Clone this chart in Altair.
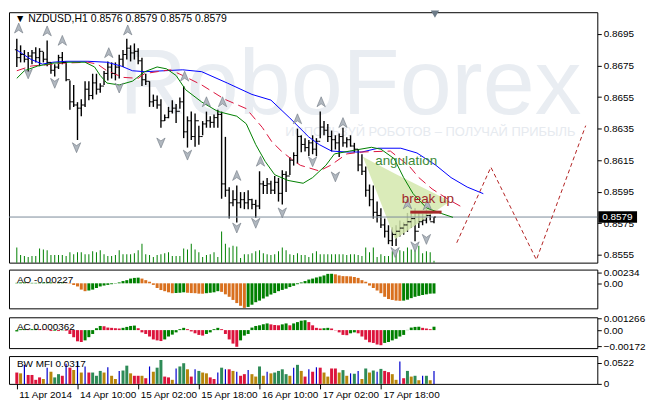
import altair as alt
import pandas as pd

# ---------------- data ----------------
highs = [
    .86920, .86878, .86848, .86836, .86848, .86866, .86860, .86836, .86908, .86770,
    .86758, .86818, .86836, .86776, .86656, .86626, .86518, .86536, .86650, .86650,
    .86698, .86698, .86638, .86716, .86776, .86770, .86770, .86818, .86848, .86920,
    .86878, .86890, .86860, .86800, .86698, .86650, .86566, .86560, .86536, .86440,
    .86488, .86530, .86506, .86548, .86620, .86428, .86458, .86446, .86368, .86398,
    .86458, .86428, .86440, .86470, .86458, .86298, .85978, .85960, .85990, .85948,
    .85948, .85960, .85906, .85900, .86080, .86020, .86038, .86020, .86050, .86038,
    .86086, .86080, .86170, .86200, .86350, .86308, .86290, .86278, .86308, .86290,
    .86458, .86398, .86380, .86338, .86308, .86320, .86356, .86296, .86308, .86260,
    .86218, .86188, .86110, .85996, .85990, .85888, .85846, .85780, .85738, .85726,
    .85738, .85768, .85756, .85816, .85810, .85846, .85816, .85810, .85840, .85816,
    .85790]
lows = [
    .86740, .86770, .86770, .86698, .86758, .86770, .86746, .86770, .86746, .86698,
    .86680, .86728, .86758, .86650, .86470, .86488, .86278, .86428, .86488, .86530,
    .86536, .86566, .86578, .86626, .86656, .86668, .86656, .86668, .86740, .86788,
    .86776, .86788, .86758, .86620, .86626, .86488, .86488, .86476, .86356, .86398,
    .86416, .86446, .86386, .86476, .86290, .86230, .86278, .86236, .86248, .86308,
    .86356, .86356, .86356, .86356, .85906, .85918, .85780, .85858, .85756, .85846,
    .85840, .85840, .85840, .85786, .85840, .85936, .85936, .85936, .85936, .85888,
    .85870, .85948, .86056, .86116, .86128, .86200, .86206, .86176, .86188, .86176,
    .86290, .86308, .86266, .86206, .86218, .86170, .86236, .86230, .86236, .86200,
    .86080, .86056, .85918, .85858, .85780, .85756, .85720, .85660, .85618, .85606,
    .85606, .85666, .85678, .85696, .85720, .85636, .85720, .85738, .85750, .85768,
    .85750]
closes = [
    .86800, .86820, .86790, .86810, .86830, .86800, .86840, .86790, .86770, .86720,
    .86740, .86800, .86770, .86660, .86520, .86500, .86480, .86500, .86600, .86560,
    .86640, .86600, .86620, .86700, .86740, .86700, .86740, .86790, .86820, .86860,
    .86830, .86840, .86780, .86660, .86650, .86520, .86530, .86500, .86400, .86420,
    .86460, .86480, .86460, .86520, .86330, .86400, .86300, .86400, .86300, .86380,
    .86400, .86390, .86420, .86440, .86000, .85960, .85880, .85900, .85880, .85900,
    .85880, .85900, .85870, .85860, .86000, .85990, .86000, .85960, .86010, .85940,
    .86060, .86050, .86150, .86180, .86300, .86250, .86230, .86260, .86220, .86270,
    .86360, .86340, .86300, .86280, .86260, .86300, .86260, .86280, .86240, .86220,
    .86120, .86080, .85960, .85900, .85820, .85800, .85740, .85700, .85640, .85680,
    .85700, .85720, .85740, .85760, .85780, .85700, .85760, .85770, .85800, .85760,
    .85790]
first_open = 0.86850
volumes = [
    16, 8, 7, 6, 7, 7, 15, 14, 13, 8, 8, 8, 8, 7, 11, 9, 11, 11, 9, 9,
    12, 11, 13, 9, 7, 7, 8, 13, 9, 9, 9, 10, 13, 20, 9, 8, 6, 8, 9, 10,
    11, 7, 7, 7, 15, 14, 20, 14, 11, 6, 8, 9, 11, 6, 33, 20, 16, 18, 17, 5,
    9, 9, 10, 12, 13, 10, 9, 8, 9, 12, 16, 13, 9, 8, 10, 8, 8, 6, 10, 12,
    9, 9, 9, 9, 9, 9, 9, 8, 9, 9, 8, 7, 16, 11, 16, 6, 9, 7, 7, 12,
    13, 13, 12, 16, 14, 16, 18, 10, 12, 11, 2]

jaw_x = [0, 3.75, 6.75, 9.5, 13, 18.75, 23.75, 27.5, 30.5, 33.75, 38.75, 43.75, 48.75, 55.5, 62,
         67, 72, 77, 79.75, 83, 87, 91, 95.25, 101.25, 105.5, 110.5, 114.5, 118.75, 123]
jaw_p = [.86848, .86789, .86759, .86771, .86777, .86777, .86771, .86747, .86717, .86711, .86717,
         .86723, .86711, .86639, .86567, .86531, .86417, .86297, .86249, .86208, .86202, .86202,
         .86226, .86226, .86196, .86118, .86040, .85980, .85938]
teeth_x = [0, 3.75, 7, 12, 18.75, 21.25, 23.75, 28, 32, 33.75, 37, 40.5, 43.75, 48.75, 54.75, 60.5,
           64.75, 67.25, 69.75, 72.25, 74.75, 79.75, 82.75, 87, 91, 98.5, 101, 103.5, 106, 109.5,
           113.75, 117.75]
teeth_p = [.86717, .86747, .86753, .86765, .86771, .86759, .86717, .86675, .86669, .86699, .86711,
           .86723, .86687, .86627, .86537, .86477, .86357, .86267, .86208, .86160, .86118, .86082,
           .86118, .86190, .86202, .86208, .86160, .86112, .86040, .85968, .85902, .85848]
lips_x = [0, 2, 5.5, 9.5, 13.75, 18, 20.5, 22, 23.75, 27, 30.5, 33.75, 37, 39.5, 42, 44.5, 48.75,
          53, 58, 60.5, 63, 65.5, 68, 71.5, 75.5, 78, 81.5, 83.75, 87.75, 93.5, 96, 99.5, 102,
          104.5, 108, 112, 115]
lips_p = [.86669, .86717, .86747, .86765, .86771, .86771, .86741, .86687, .86639, .86627, .86651,
          .86711, .86741, .86729, .86687, .86597, .86519, .86459, .86429, .86381, .86249, .86142,
          .86058, .86022, .86004, .86040, .86118, .86190, .86208, .86232, .86220, .86160, .86040,
          .85938, .85848, .85812, .85788]

fr_up_x = [0.5, 8, 12, 24.25, 29.25, 44.25, 50, 54.25, 58, 64.25, 74, 80.25, 86, 103, 108.25]
fr_up_p = [.86986, .86968, .86908, .86830, .86974, .86681, .86519, .86519, .86052, .86142, .86411,
           .86519, .86387, .85872, .85866]
fr_dn_x = [3, 10, 15.75, 27, 38, 45, 58, 63, 70, 78, 84, 99.75, 105, 108]
fr_dn_p = [.86699, .86639, .86231, .86609, .86261, .86184, .85722, .85752, .85818, .86142, .86046,
           .85567, .85603, .85650]

proj_x = [116, 125, 137, 150]
proj_p = [.85627, .86106, .85519, .86369]

ang_x = [91.25, 99.75, 114.25]
ang_top = [.86172, .86065, .85890]
ang_bot = [.86172, .85650, .85890]

brk_x = [103.75, 112]
brk_p = .85821
last_price = 0.8579

ao = [
    0.0001, 0.0002, 0.0002, 0.0001, 0.0001, 0.0001, 0.0001, 0.0002, 0.0002, 0.0002,
    0.0001, 0.0001, 0.0002, 0.0001, -0.0001, -0.00035, -0.0007, -0.0014, -0.00175, -0.0016,
    -0.0014, -0.00105, -0.0007, -0.0005, -0.00035, -0.0002, -0.00007, 0.0002, 0.0005, 0.0007,
    0.00105, 0.0012, 0.00126, 0.00105, 0.0007, 0.00035, -0.00035, -0.00105, -0.0015, -0.00175,
    -0.002, -0.0022, -0.00215, -0.0021, -0.002, -0.0021, -0.00217, -0.0022, -0.0023, -0.00231,
    -0.0022, -0.0021, -0.002, -0.00175, -0.0019, -0.00245, -0.003, -0.0037, -0.0044, -0.005,
    -0.00546, -0.00525, -0.00476, -0.0042, -0.00385, -0.00336, -0.00294, -0.0025, -0.00217, -0.00175,
    -0.00147, -0.0012, -0.00084, -0.00056, -0.0002, 0.0002, 0.0005, 0.00084, 0.00105, 0.0013,
    0.0015, 0.00175, 0.0021, 0.00212, 0.002, 0.00175, 0.0016, 0.00158, 0.00154, 0.0014,
    0.0012, 0.0007, 0.00035, -0.0005, -0.00105, -0.0016, -0.0022, -0.003, -0.0035, -0.0037,
    -0.00385, -0.0039, -0.00385, -0.00364, -0.0033, -0.003, -0.0028, -0.0026, -0.00245, -0.0023,
    -0.00227]
ac = [
    -0.00014, 0.00010, 0.00010, 0.00007, 0.00010, 0.00014, 0.00010, 0.00007, 0.00003, -0.00010,
    -0.00007, -0.00010, -0.00003, -0.00007, -0.00041, -0.00075, -0.00119, -0.00126, -0.00109, -0.00075,
    -0.00041, 0.00020, 0.00044, 0.00041, 0.00027, 0.00024, 0.00020, 0.00017, 0.00024, 0.00034,
    0.00044, 0.00048, 0.00020, -0.00024, -0.00041, -0.00068, -0.00099, -0.00109, -0.00116, -0.00099,
    -0.00068, -0.00048, -0.00024, 0.00010, 0.00024, 0.00010, -0.00014, -0.00034, -0.00051, -0.00058,
    -0.00041, -0.00024, 0.00010, 0.00024, 0.00010, -0.00041, -0.00099, -0.00143, -0.00177, -0.00109,
    -0.00058, -0.00041, 0.00027, 0.00044, 0.00051, 0.00061, 0.00071, 0.00061, 0.00054, 0.00051,
    0.00061, 0.00071, 0.00051, 0.00071, 0.00085, 0.00100, 0.00105, 0.00085, 0.00051, 0.00024,
    0.00017, 0.00020, 0.00024, 0.00017, -0.00003, -0.00024, -0.00051, -0.00054, -0.00034, -0.00024,
    -0.00034, -0.00068, -0.00102, -0.00129, -0.00136, -0.00153, -0.00160, -0.00136, -0.00126, -0.00109,
    -0.00092, -0.00068, -0.00051, 0.00002, 0.00027, 0.00034, 0.00036, 0.00024, 0.00017, 0.00010,
    0.000362]
mfi = [
    .028, .026, .047, .022, .022, .010, .016, .012, .040, .030,
    .016, .024, .020, .050, .040, .034, .055, .028, .043, .028,
    .028, .020, .032, .028, .041, .020, .012, .032, .033, .045,
    .026, .020, .020, .020, .014, .043, .030, .040, .059, .018,
    .016, .010, .038, .043, .051, .036, .018, .036, .032, .028,
    .026, .016, .012, .028, .040, .036, .036, .032, .030, .020,
    .024, .034, .024, .018, .043, .020, .030, .026, .028, .032,
    .036, .024, .020, .040, .047, .032, .018, .036, .030, .041,
    .040, .028, .018, .038, .038, .028, .034, .020, .026, .025,
    .032, .012, .038, .028, .033, .030, .037, .032, .029, .024,
    .010, .055, .014, .032, .018, .020, .009, .020, .020, .009,
    .0317]
mfi_kind = [
    'R', 'Y', 'B', 'R', 'R', 'R', 'R', 'Y', 'B', 'Y',
    'G', 'G', 'R', 'B', 'R', 'Y', 'B', 'Y', 'B', 'R',
    'G', 'G', 'G', 'Y', 'B', 'Y', 'Y', 'B', 'G', 'G',
    'Y', 'R', 'R', 'Y', 'R', 'B', 'Y', 'G', 'G', 'R',
    'R', 'Y', 'B', 'G', 'G', 'Y', 'R', 'B', 'G', 'Y',
    'Y', 'R', 'R', 'B', 'G', 'B', 'R', 'Y', 'B', 'R',
    'R', 'B', 'Y', 'Y', 'G', 'Y', 'B', 'Y', 'G', 'G',
    'G', 'G', 'Y', 'B', 'G', 'Y', 'R', 'B', 'R', 'B',
    'R', 'Y', 'Y', 'R', 'R', 'Y', 'G', 'Y', 'B', 'G',
    'B', 'Y', 'G', 'Y', 'G', 'B', 'G', 'R', 'R', 'Y',
    'Y', 'B', 'R', 'G', 'Y', 'G', 'Y', 'B', 'G', 'Y',
    'B']

tick_pos = [0, 16, 32, 48, 64, 80, 96]
tick_labels = ['11 Apr 2014', '14 Apr 10:00', '15 Apr 02:00', '15 Apr 18:00',
               '16 Apr 10:00', '17 Apr 02:00', '17 Apr 18:00']
price_ticks = [0.8695, 0.8675, 0.8655, 0.8635, 0.8615, 0.8595, 0.8575, 0.8555]

# ---------------- layout / styles ----------------
W = 592
H_MAIN, H_AO, H_AC, H_MFI = 252, 39, 31, 28
XDOM = [-0.75, 151.75]
PDOM = [0.85501, 0.87088]
AODOM = [-0.00557, 0.00305]
ACDOM = [-0.00191, 0.00136]
MFIDOM = [0, 0.0687]
FONT = 'Liberation Sans'

xs = alt.Scale(domain=XDOM, nice=False, zero=False)
ps = alt.Scale(domain=PDOM, nice=False, zero=False)


def raxis(values, expr=None, fmt=None):
    kw = dict(orient='right', values=values, tickSize=4, tickColor='black', domain=False,
              grid=False, labelFont=FONT, labelFontSize=10, labelColor='black',
              labelPadding=2, title=None, labelOverlap=False, labelFlush=False)
    if expr:
        kw['labelExpr'] = expr
    if fmt:
        kw['format'] = fmt
    return alt.Axis(**kw)


PRICE_AXIS = raxis(price_ticks, fmt='.4f')


def X(f, axis=None):
    return alt.X(f, type='quantitative', scale=xs, axis=axis)


def PY(f):
    # identical axis on every price layer so the merged axis survives
    return alt.Y(f, type='quantitative', scale=ps, axis=PRICE_AXIS)


n = len(highs)
idx = list(range(n))
opens = [first_open] + closes[:-1]
bars = pd.DataFrame({'i': idx, 'open': opens, 'high': highs, 'low': lows,
                     'close': closes, 'vol': volumes})
bars['xl'] = bars['i'] - 0.5
bars['xr'] = bars['i'] + 0.5

# ---------------- main panel ----------------
wm1 = alt.Chart(pd.DataFrame({'t': ['RoboForex']})).mark_text(
    align='left', baseline='alphabetic', fontSize=94, font=FONT, color='#e9edf2'
).encode(x=alt.value(111), y=alt.value(102), text='t:N')
wm2 = alt.Chart(pd.DataFrame({'t': ['ИСПОЛЬЗУЙ РОБОТОВ – ПОЛУЧАЙ ПРИБЫЛЬ']})).mark_text(
    align='right', baseline='middle', fontSize=13, font=FONT, color='#e6eaef'
).encode(x=alt.value(570), y=alt.value(121), text='t:N')

vol = alt.Chart(bars).mark_bar(size=1, color='#008000').encode(
    x=X('i'), y=alt.Y('vol:Q', scale=alt.Scale(domain=[0, 265], nice=False), axis=None))

ang = alt.Chart(pd.DataFrame({'x': ang_x, 'top': ang_top, 'bot': ang_bot})).mark_area(
    color='#d3e7ad', opacity=0.85).encode(x=X('x'), y=PY('top'), y2='bot:Q')

pline = alt.Chart(pd.DataFrame({'p': [last_price]})).mark_rule(
    color='#7b8a99', strokeWidth=1).encode(y=PY('p'))

jaw = alt.Chart(pd.DataFrame({'x': jaw_x, 'p': jaw_p})).mark_line(
    color='#0000ff', strokeWidth=1).encode(x=X('x'), y=PY('p'))
teeth = alt.Chart(pd.DataFrame({'x': teeth_x, 'p': teeth_p})).mark_line(
    color='#dc143c', strokeWidth=1, strokeDash=[9, 5]).encode(x=X('x'), y=PY('p'))
lips = alt.Chart(pd.DataFrame({'x': lips_x, 'p': lips_p})).mark_line(
    color='#008000', strokeWidth=1).encode(x=X('x'), y=PY('p'))

hl = alt.Chart(bars).mark_rule(color='black', strokeWidth=1.4).encode(
    x=X('i'), y=PY('low'), y2='high:Q')
op = alt.Chart(bars).mark_rule(color='black', strokeWidth=1).encode(
    x=X('xl'), x2='i:Q', y=PY('open'))
cl = alt.Chart(bars).mark_rule(color='black', strokeWidth=1).encode(
    x=X('i'), x2='xr:Q', y=PY('close'))

UP = 'M0,-1L0.8,0.9L0,0.35L-0.8,0.9Z'
DN = 'M0,1L0.8,-0.9L0,-0.35L-0.8,-0.9Z'
fup = alt.Chart(pd.DataFrame({'x': fr_up_x, 'p': fr_up_p})).mark_point(
    shape=UP, filled=True, size=110, fill='#b0b7bf', stroke='#6f7882', strokeWidth=0.6,
    opacity=1).encode(x=X('x'), y=PY('p'))
fdn = alt.Chart(pd.DataFrame({'x': fr_dn_x, 'p': fr_dn_p})).mark_point(
    shape=DN, filled=True, size=110, fill='#b0b7bf', stroke='#6f7882', strokeWidth=0.6,
    opacity=1).encode(x=X('x'), y=PY('p'))

proj = alt.Chart(pd.DataFrame({'x': proj_x, 'p': proj_p})).mark_line(
    color='#b22222', strokeWidth=1, strokeDash=[4, 3]).encode(x=X('x'), y=PY('p'))

brk = alt.Chart(pd.DataFrame({'x1': [brk_x[0]], 'x2': [brk_x[1]], 'p': [brk_p]})).mark_rule(
    color='#a52a2a', strokeWidth=3).encode(x=X('x1'), x2='x2:Q', y=PY('p'))

notes = pd.DataFrame({'x': [94.5, 101.5], 'p': [.86142, .85902],
                      't': ['angulation', 'break up'], 'c': ['#3d8b37', '#a0282a']})
note_txt = alt.Chart(notes).mark_text(align='left', baseline='middle', fontSize=13.5,
                                      font=FONT).encode(
    x=X('x'), y=PY('p'), text='t:N', color=alt.Color('c:N', scale=None))

title = alt.Chart(pd.DataFrame({'t': ['▼ NZDUSD,H1  0.8576 0.8579 0.8575 0.8579']})).mark_text(
    align='left', baseline='middle', fontSize=10.5, font=FONT, color='black'
).encode(x=alt.value(6), y=alt.value(7), text='t:N')

box = alt.Chart(pd.DataFrame({'p1': [last_price + 0.00036], 'p2': [last_price - 0.00036]})).mark_rect(
    color='black').encode(x=alt.value(W + 1), x2=alt.value(W + 40), y=PY('p1'), y2='p2:Q')
box_txt = alt.Chart(pd.DataFrame({'p': [last_price], 't': ['0.8579']})).mark_text(
    align='left', baseline='middle', fontSize=10, font=FONT, color='white'
).encode(x=alt.value(W + 5), y=PY('p'), text='t:N')

marker = alt.Chart(pd.DataFrame({'x': [110.25], 'p': [PDOM[1] - 0.00012]})).mark_point(
    shape='triangle-down', filled=True, size=70, color='#6d7b88', opacity=1
).encode(x=X('x'), y=PY('p'))

price_layer = alt.layer(hl, ang, pline, jaw, teeth, lips, op, cl, fup, fdn, proj, brk,
                        note_txt, title, box, box_txt, marker)
main = alt.layer(wm1, wm2, vol, price_layer).resolve_scale(y='independent').properties(
    width=W, height=H_MAIN)


def colors_from(vals, up, down):
    out = []
    for k, v in enumerate(vals):
        prev = vals[k - 1] if k > 0 else v
        out.append(up if v >= prev else down)
    return out


def lbl(text, y):
    return alt.Chart(pd.DataFrame({'t': [text]})).mark_text(
        align='left', baseline='middle', fontSize=10, font=FONT, color='black'
    ).encode(x=alt.value(8), y=alt.value(y), text='t:N')


# ---------------- AO ----------------
ao_df = pd.DataFrame({'i': idx, 'v': ao, 'c': colors_from(ao, '#008000', '#d9701e')})
ao_bars = alt.Chart(ao_df).mark_bar(size=3).encode(
    x=X('i'),
    y=alt.Y('v:Q', scale=alt.Scale(domain=AODOM, nice=False, zero=False),
            axis=raxis([0.00234, 0, -0.00564],
                       expr="datum.value == 0 ? '0.00' : format(datum.value, '.5f')")),
    color=alt.Color('c:N', scale=None))
ao_panel = alt.layer(ao_bars, lbl('AO -0.00227', 10.5)).properties(width=W, height=H_AO)

# ---------------- AC ----------------
ac_df = pd.DataFrame({'i': idx, 'v': ac, 'c': colors_from(ac, '#008000', '#dc143c')})
ac_bars = alt.Chart(ac_df).mark_bar(size=3).encode(
    x=X('i'),
    y=alt.Y('v:Q', scale=alt.Scale(domain=ACDOM, nice=False, zero=False),
            axis=raxis([0.001266, 0, -0.00172],
                       expr="datum.value > 0 ? format(datum.value, '.6f') : (datum.value < 0 ? format(datum.value, '.5f') : '0.00')")),
    color=alt.Color('c:N', scale=None))
ac_panel = alt.layer(ac_bars, lbl('AC 0.000362', 10)).properties(width=W, height=H_AC)

# ---------------- BW MFI ----------------
cmap = {'R': '#dc143c', 'Y': '#b8860b', 'G': '#2e8b57', 'B': '#0000cd'}
mfi_df = pd.DataFrame({'i': idx, 'v': mfi, 'k': mfi_kind})
mfi_df['c'] = mfi_df['k'].map(cmap)
X_AXIS = alt.Axis(values=tick_pos,
                  labelExpr="['" + "','".join(tick_labels) + "'][round(datum.value / 16)]",
                  labelAlign='left', labelOffset=2, tickSize=5, tickColor='black',
                  domain=False, grid=False, labelFont=FONT, labelFontSize=10,
                  labelColor='black', labelPadding=1, title=None, labelOverlap=False,
                  labelFlush=False)
MFI_AXIS = raxis([0.0522, 0], expr="datum.value == 0 ? '0' : format(datum.value, '.4f')")
mfi_scale = alt.Scale(domain=MFIDOM, nice=False)
mfi_thick = alt.Chart(mfi_df[mfi_df['k'] != 'B']).mark_bar(size=3).encode(
    x=X('i', X_AXIS),
    y=alt.Y('v:Q', scale=mfi_scale, axis=MFI_AXIS),
    color=alt.Color('c:N', scale=None))
mfi_thin = alt.Chart(mfi_df[mfi_df['k'] == 'B']).mark_bar(size=1.2).encode(
    x=X('i', X_AXIS), y=alt.Y('v:Q', scale=mfi_scale, axis=MFI_AXIS),
    color=alt.Color('c:N', scale=None))
mfi_panel = alt.layer(mfi_thick, mfi_thin, lbl('BW MFI 0.0317', 8)).properties(
    width=W, height=H_MFI)

chart = alt.vconcat(main, ao_panel, ac_panel, mfi_panel, spacing=3).properties(
    padding=0, background='white'
).configure_view(stroke='black', strokeWidth=1)

chart.save("out.html", embed_options={"renderer": "svg", "actions": False})
